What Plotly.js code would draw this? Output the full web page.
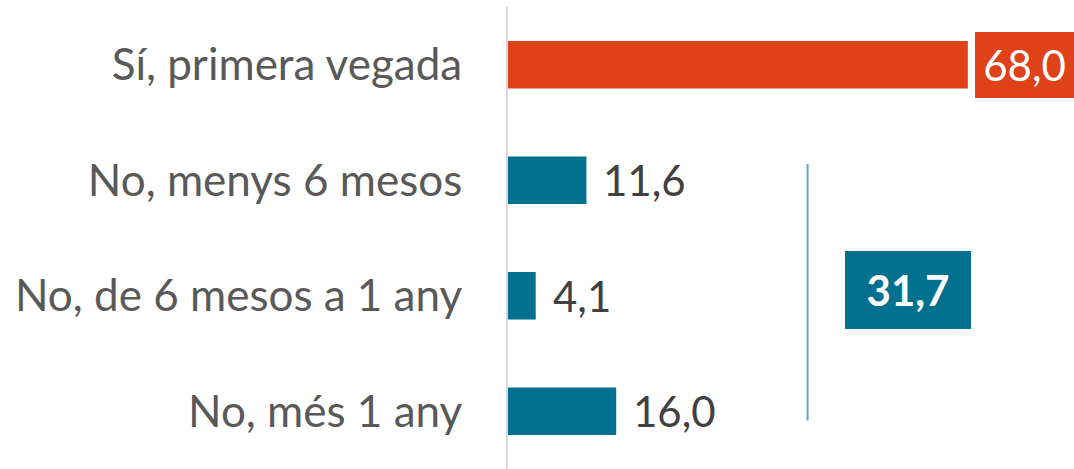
<!DOCTYPE html>
<html>
<head>
<meta charset="utf-8">
<script src="https://cdn.plot.ly/plotly-3.0.1.min.js"></script>
<style>html,body{margin:0;padding:0;background:#fff;}#chart{width:1074px;height:469px;}</style>
</head>
<body>
<div id="chart"></div>
<script>
const categories = ["Sí, primera vegada", "No, menys 6 mesos", "No, de 6 mesos a 1 any", "No, més 1 any"];
const values = [68.0, 11.6, 4.1, 16.0];
const barColors = ["#df4119", "#02708f", "#02708f", "#02708f"];
const groupTotalLabel = "31,7";

const fmt = v => v.toFixed(1).replace('.', ',');
const FONT = "Lato, 'Open Sans', sans-serif";

const trace = {
  type: 'bar',
  orientation: 'h',
  y: categories,
  x: values,
  marker: {color: barColors},
  width: 0.41,
  hoverinfo: 'skip'
};

const annotations = values.map((v, i) => {
  if (i === 0) {
    return {
      x: v, y: categories[i], xref: 'x', yref: 'y',
      text: fmt(v), showarrow: false,
      xanchor: 'left', yanchor: 'middle', xshift: 7,
      bgcolor: barColors[0], borderwidth: 0, borderpad: 0,
      width: 99, height: 66,
      font: {family: FONT, size: 42, color: '#ffffff'}
    };
  }
  return {
    x: v, y: categories[i], xref: 'x', yref: 'y',
    text: fmt(v), showarrow: false,
    xanchor: 'left', yanchor: 'middle', xshift: 15,
    font: {family: FONT, size: 42, color: '#404040'}
  };
});

annotations.push({
  x: 59.1, y: 1.95, xref: 'x', yref: 'y',
  text: '<b>' + groupTotalLabel + '</b>', showarrow: false,
  xanchor: 'center', yanchor: 'middle',
  bgcolor: '#02708f', borderwidth: 0, borderpad: 0,
  width: 126, height: 78,
  font: {family: FONT, size: 42, color: '#ffffff'}
});

const layout = {
  width: 1074, height: 469,
  margin: {l: 508, r: 0, t: 7, b: 0, pad: 0},
  paper_bgcolor: '#ffffff', plot_bgcolor: '#ffffff',
  showlegend: false,
  xaxis: {range: [0, 83.7], visible: false, showgrid: false, zeroline: false},
  yaxis: {
    type: 'category', range: [3.5, -0.5],
    showline: true, linecolor: '#d9d9d9', linewidth: 2,
    showgrid: false, zeroline: false,
    ticks: 'outside', ticklen: 35, tickcolor: 'rgba(0,0,0,0)',
    tickfont: {family: FONT, size: 44, color: '#595959'}
  },
  shapes: [{
    type: 'line', xref: 'x', yref: 'y',
    x0: 44.3, x1: 44.3, y0: 0.86, y1: 3.08,
    line: {color: '#6f9ec0', width: 2}
  }],
  annotations: annotations
};

Plotly.newPlot('chart', [trace], layout, {displayModeBar: false, staticPlot: true});
</script>
</body>
</html>
